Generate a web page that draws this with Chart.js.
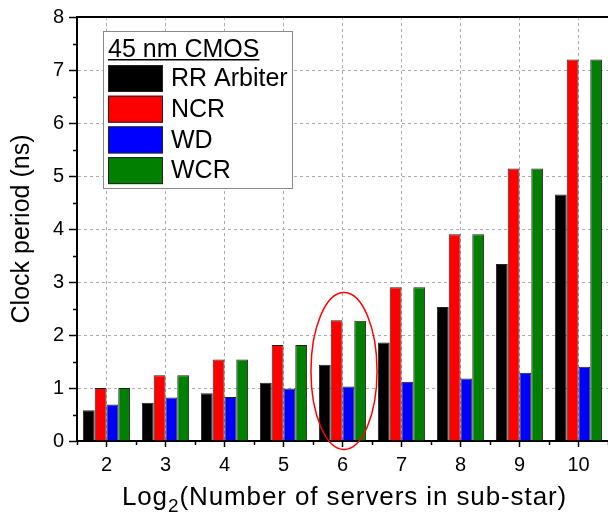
<!DOCTYPE html>
<html>
<head>
<meta charset="utf-8">
<script src="https://cdn.jsdelivr.net/npm/chart.js@4"></script>
<style>
  html, body { margin: 0; padding: 0; background: #fff; }
  canvas { display: block; }
</style>
</head>
<body>
<canvas id="chart" width="608" height="514"></canvas>
<script>
// values
const categories = ['2', '3', '4', '5', '6', '7', '8', '9', '10'];
const rrArbiter = [0.58, 0.72, 0.90, 1.10, 1.44, 1.86, 2.53, 3.34, 4.65];
const ncr = [1.00, 1.24, 1.54, 1.81, 2.28, 2.90, 3.90, 5.14, 7.20];
const wd = [0.69, 0.82, 0.83, 0.99, 1.03, 1.12, 1.18, 1.29, 1.40];
const wcr = [1.00, 1.24, 1.54, 1.81, 2.27, 2.90, 3.90, 5.14, 7.20];
const yMin = 0;
const yMax = 8;
const legendTitle = '45 nm CMOS';
// x title in three parts: text, subscript, text
const xTitleParts = ['Log', '2', '(Number of servers in sub-star)'];
const yTitle = 'Clock period (ns)';

// red ellipse around the "6" group (category, centre value, half sizes)
const highlight = { category: '6', center: 1.32, halfHeight: 1.48, halfWidth: 0.56 };

const FONT = 'Arial, "Liberation Sans", sans-serif';

function bar(label, data, color) {
    return {
        label: label,
        data: data,
        backgroundColor: color,
        borderColor: '#222',
        borderWidth: 1,
        borderSkipped: 'bottom',
        categoryPercentage: 0.8,
        barPercentage: 1.0
    };
}

// minor ticks, top frame line
const framePlugin = {
    id: 'frame',
    afterDraw(chart) {
        const ctx = chart.ctx;
        const area = chart.chartArea;
        const x = chart.scales.x;
        const y = chart.scales.y;
        ctx.save();
        ctx.strokeStyle = '#000';
        ctx.lineWidth = 1.5;
        ctx.beginPath();
        for (let v = yMin + 0.5; v < yMax; v += 1) {
            const py = Math.round(y.getPixelForValue(v)) + 0.5;
            ctx.moveTo(area.left - 4, py);
            ctx.lineTo(area.left, py);
        }
        for (let i = 0; i <= categories.length; i++) {
            const px = Math.round(x.getPixelForValue(i - 0.5)) + 0.5;
            ctx.moveTo(px, area.bottom);
            ctx.lineTo(px, area.bottom + 4);
        }
        ctx.stroke();
        ctx.lineWidth = 2;
        ctx.beginPath();
        ctx.moveTo(area.left - 1, area.top);
        ctx.lineTo(area.right, area.top);
        ctx.stroke();
        ctx.restore();
    }
};

// x axis title with a real subscript
const xTitlePlugin = {
    id: 'xTitle',
    afterDraw(chart) {
        const ctx = chart.ctx;
        const area = chart.chartArea;
        const mainFont = '26px ' + FONT;
        const subFont = '19px ' + FONT;
        const spacing = '0.9px';
        ctx.save();
        ctx.fillStyle = '#000';
        ctx.textBaseline = 'alphabetic';
        ctx.textAlign = 'left';
        ctx.letterSpacing = spacing;
        ctx.font = mainFont;
        const w0 = ctx.measureText(xTitleParts[0]).width;
        const w2 = ctx.measureText(xTitleParts[2]).width;
        ctx.font = subFont;
        const w1 = ctx.measureText(xTitleParts[1]).width;
        const total = w0 + w1 + w2;
        let px = (area.left + area.right) / 2 - total / 2 + 2;
        const base = 505;
        ctx.font = mainFont;
        ctx.fillText(xTitleParts[0], px, base);
        px += w0;
        ctx.font = subFont;
        ctx.fillText(xTitleParts[1], px, base + 7);
        px += w1;
        ctx.font = mainFont;
        ctx.fillText(xTitleParts[2], px, base);
        ctx.restore();
    }
};

// ellipse drawn through the scales
const highlightPlugin = {
    id: 'highlight',
    afterDatasetsDraw(chart) {
        const ctx = chart.ctx;
        const x = chart.scales.x;
        const y = chart.scales.y;
        const idx = categories.indexOf(highlight.category);
        const cx = x.getPixelForValue(idx) + 1.5;
        const cy = y.getPixelForValue(highlight.center);
        const rx = x.getPixelForValue(idx + highlight.halfWidth) - x.getPixelForValue(idx);
        const ry = y.getPixelForValue(0) - y.getPixelForValue(highlight.halfHeight);
        ctx.save();
        ctx.strokeStyle = '#ff0000';
        ctx.lineWidth = 1.5;
        ctx.beginPath();
        ctx.ellipse(cx, cy, rx, ry, 0, 0, Math.PI * 2);
        ctx.stroke();
        ctx.restore();
    }
};

// legend box in the upper left of the plot
const legendPlugin = {
    id: 'boxLegend',
    afterDraw(chart) {
        const ctx = chart.ctx;
        const left = 103, top = 31, width = 189, height = 157;
        ctx.save();
        ctx.fillStyle = '#fff';
        ctx.fillRect(left, top, width, height);
        ctx.strokeStyle = '#8a8a8a';
        ctx.lineWidth = 1;
        ctx.strokeRect(left + 0.5, top + 0.5, width, height);

        ctx.fillStyle = '#000';
        ctx.font = '25px ' + FONT;
        ctx.textBaseline = 'alphabetic';
        ctx.textAlign = 'left';
        ctx.fillText(legendTitle, 108, 57);
        const tw = ctx.measureText(legendTitle).width;
        ctx.fillRect(108, 59, tw, 1.5);

        chart.data.datasets.forEach((ds, i) => {
            const sy = 65 + i * 30.7;
            ctx.fillStyle = ds.backgroundColor;
            ctx.fillRect(108, sy, 55, 27);
            ctx.strokeStyle = '#222';
            ctx.lineWidth = 1;
            ctx.strokeRect(108.5, sy + 0.5, 54, 26);
            ctx.fillStyle = '#000';
            ctx.textBaseline = 'middle';
            ctx.fillText(ds.label, 171, sy + 14.5);
        });
        ctx.restore();
    }
};

new Chart(document.getElementById('chart'), {
    type: 'bar',
    data: {
        labels: categories,
        datasets: [
            bar('RR Arbiter', rrArbiter, '#000000'),
            bar('NCR', ncr, '#ff0000'),
            bar('WD', wd, '#0000ff'),
            bar('WCR', wcr, '#007f00')
        ]
    },
    options: {
        responsive: false,
        animation: false,
        layout: { padding: { top: 12, right: 0, left: 0, bottom: 0 } },
        plugins: {
            legend: { display: false },
            tooltip: { enabled: false }
        },
        scales: {
            x: {
                type: 'category',
                offset: true,
                afterFit(scale) { scale.height = 73; },
                grid: {
                    offset: false,
                    color: '#ababab',
                    lineWidth: 1,
                    tickColor: '#000',
                    tickLength: 6,
                    tickWidth: 1.5
                },
                border: { display: true, color: '#000', width: 2, dash: [3, 3] },
                ticks: {
                    color: '#000',
                    padding: 6,
                    font: { family: FONT, size: 20 }
                },
                title: { display: false }
            },
            y: {
                min: yMin,
                max: yMax,
                afterFit(scale) { scale.width = 77; },
                grid: {
                    color: '#ababab',
                    lineWidth: 1,
                    tickColor: '#000',
                    tickLength: 8,
                    tickWidth: 1.5
                },
                border: { display: true, color: '#000', width: 2, dash: [3, 3] },
                ticks: {
                    stepSize: 1,
                    color: '#000',
                    padding: 5,
                    font: { family: FONT, size: 20 }
                },
                title: {
                    display: true,
                    text: yTitle,
                    color: '#000',
                    font: { family: FONT, size: 25 },
                    padding: { top: 7, bottom: 0 }
                }
            }
        }
    },
    plugins: [framePlugin, highlightPlugin, legendPlugin, xTitlePlugin]
});
</script>
</body>
</html>
